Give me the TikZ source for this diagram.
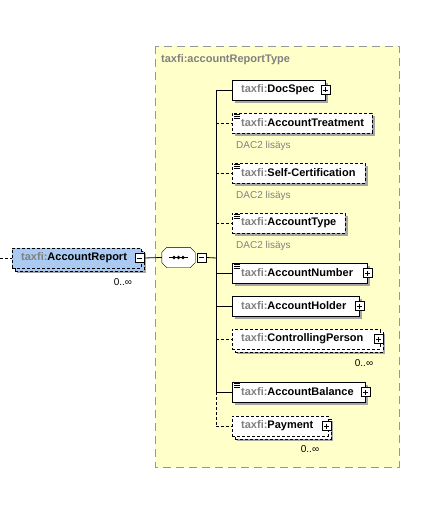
\documentclass[tikz,border=0pt]{standalone}
\usepackage{fontspec}
\setmainfont{Liberation Sans}
\usetikzlibrary{shadows}

\definecolor{typeyellow}{RGB}{255,255,202}
\definecolor{typeborder}{RGB}{150,150,150}
\definecolor{rootblue}{RGB}{170,202,242}
\definecolor{prefixgray}{RGB}{128,128,128}
\definecolor{shadowgray}{RGB}{165,165,165}

% element label with fixed box width
\newcommand{\xsname}[2]{\makebox[\dimexpr#1pt-18pt\relax][l]{\textcolor{prefixgray}{taxfi:}#2}}
% octagon round the sequence node
\newcommand{\octpath}{([xshift=5pt]seq.north west) -- ([xshift=-5pt]seq.north east) -- ([yshift=-5pt]seq.north east)
  -- ([yshift=5pt]seq.south east) -- ([xshift=-5pt]seq.south east) -- ([xshift=5pt]seq.south west)
  -- ([yshift=5pt]seq.south west) -- ([yshift=-5pt]seq.north west) -- cycle}

\tikzset{
  elem/.style={draw, fill=white, anchor=west, minimum height=20pt, inner xsep=9pt, inner ysep=0pt,
    font=\fontsize{11}{13}\selectfont\bfseries,
    drop shadow={shadow xshift=3pt, shadow yshift=-3pt, fill=shadowgray, opacity=1}},
  opt/.style={dash pattern=on 3pt off 2pt},
  many/.style={drop shadow={shadow xshift=5pt, shadow yshift=-5pt, fill=shadowgray, opacity=1},
    copy shadow={shadow xshift=3pt, shadow yshift=-3pt, fill=#1, draw=black, dash pattern=on 3pt off 2pt}},
  doc/.style={path picture={
    \fill[white] (path picture bounding box.north west) rectangle ++(8pt,-7pt);
    \foreach \k in {1,3,5}
      \draw[solid, line width=0.8pt] ([shift={(2pt,-\k pt)}]path picture bounding box.north west) -- ++(6pt,0);}},
  plus/.style={draw, solid, fill=white, minimum size=9pt, inner sep=0pt,
    path picture={\draw ([xshift=2pt]path picture bounding box.west) -- ([xshift=-2pt]path picture bounding box.east)
      ([yshift=-2pt]path picture bounding box.north) -- ([yshift=2pt]path picture bounding box.south);}},
  minus/.style={draw, solid, fill=white, minimum size=9pt, inner sep=0pt,
    path picture={\draw ([xshift=2pt]path picture bounding box.west) -- ([xshift=-2pt]path picture bounding box.east);}},
  note/.style={anchor=west, inner sep=0pt, text=prefixgray, font=\fontsize{10}{12}\selectfont},
  mult/.style={inner sep=0pt, font=\fontsize{10}{12}\selectfont},
  conn/.style={line width=0.8pt},
  connopt/.style={dash pattern=on 3pt off 2pt}
}

\begin{document}
\begin{tikzpicture}[x=1pt,y=-1pt]
\useasboundingbox (0,0) rectangle (442,505);

% complex type area
\draw[typeborder, fill=typeyellow, dash pattern=on 8pt off 5pt] (155,46) rectangle (399,467);
\node[anchor=west, inner sep=0pt, text=prefixgray, font=\fontsize{11}{13}\selectfont\bfseries] (typename) at (161,60) {taxfi:accountReportType};

% root element
\coordinate (src) at (0,258);
\node[elem, opt, fill=rootblue, many=rootblue] (report) at (12,258) {\xsname{129}{AccountReport}};
\node[minus] (reportminus) at ([xshift=-2pt]report.east) {};
\node[mult] (reportmult) at (123,282) {0..∞};

% sequence
\node[minimum width=33pt, minimum height=20pt, inner sep=0pt] (seq) at (178.5,257.5) {};
\fill[shadowgray, shift={(3pt,-3pt)}] \octpath;
\draw[fill=white] \octpath;
\draw[line width=1pt] ([xshift=7pt]seq.west) -- ([xshift=-7pt]seq.east);
\foreach \dx in {-4.5,0,4.5}
  \fill ([xshift=\dx pt]seq.center) circle (1.8pt);
\node[minus] (seqminus) at (201.5,257.5) {};
\coordinate (spine) at (216,258);

% children
\node[elem] (docspec) at (232,90) {\xsname{93}{DocSpec}};
\node[plus] (docspecplus) at (docspec.east) {};
\node[elem, opt, doc] (treatment) at (232,123) {\xsname{140}{AccountTreatment}};
\node[note] (treatmentnote) at (236,146) {DAC2 lisäys};
\node[elem, opt, doc] (selfcert) at (232,173) {\xsname{133}{Self-Certification}};
\node[note] (selfcertnote) at (236,196) {DAC2 lisäys};
\node[elem, opt, doc] (accttype) at (232,223) {\xsname{113}{AccountType}};
\node[note] (accttypenote) at (236,246) {DAC2 lisäys};
\node[elem, doc] (acctnumber) at (232,273) {\xsname{135}{AccountNumber}};
\node[plus] (acctnumberplus) at (acctnumber.east) {};
\node[elem] (holder) at (232,306) {\xsname{127}{AccountHolder}};
\node[plus] (holderplus) at (holder.east) {};
\node[elem, opt, many=white] (ctrlperson) at (232,339) {\xsname{148}{ControllingPerson}};
\node[plus] (ctrlpersonplus) at ([xshift=-2pt]ctrlperson.east) {};
\node[mult] (ctrlmult) at (364,363) {0..∞};
\node[elem, doc] (balance) at (232,392) {\xsname{133}{AccountBalance}};
\node[plus] (balanceplus) at (balance.east) {};
\node[elem, opt, many=white] (payment) at (232,426) {\xsname{96}{Payment}};
\node[plus] (paymentplus) at ([xshift=-2pt]payment.east) {};
\node[mult] (paymentmult) at (310,449) {0..∞};

% connectors
\draw[conn, connopt] (src) -- (report.west);
\draw[conn] (reportminus.east) -- (seq.west);
\draw[conn] (seqminus.east) -- (spine);
\draw[conn] (spine |- docspec.west) -- (spine |- balance.west);
\draw[conn, connopt] (spine |- balance.west) -- (spine |- payment.west);
\foreach \n in {docspec, acctnumber, holder, balance}
  \draw[conn] (spine |- \n.west) -- (\n.west);
\foreach \n in {treatment, selfcert, accttype, ctrlperson, payment}
  \draw[conn, connopt] (spine |- \n.west) -- (\n.west);
\end{tikzpicture}
\end{document}
